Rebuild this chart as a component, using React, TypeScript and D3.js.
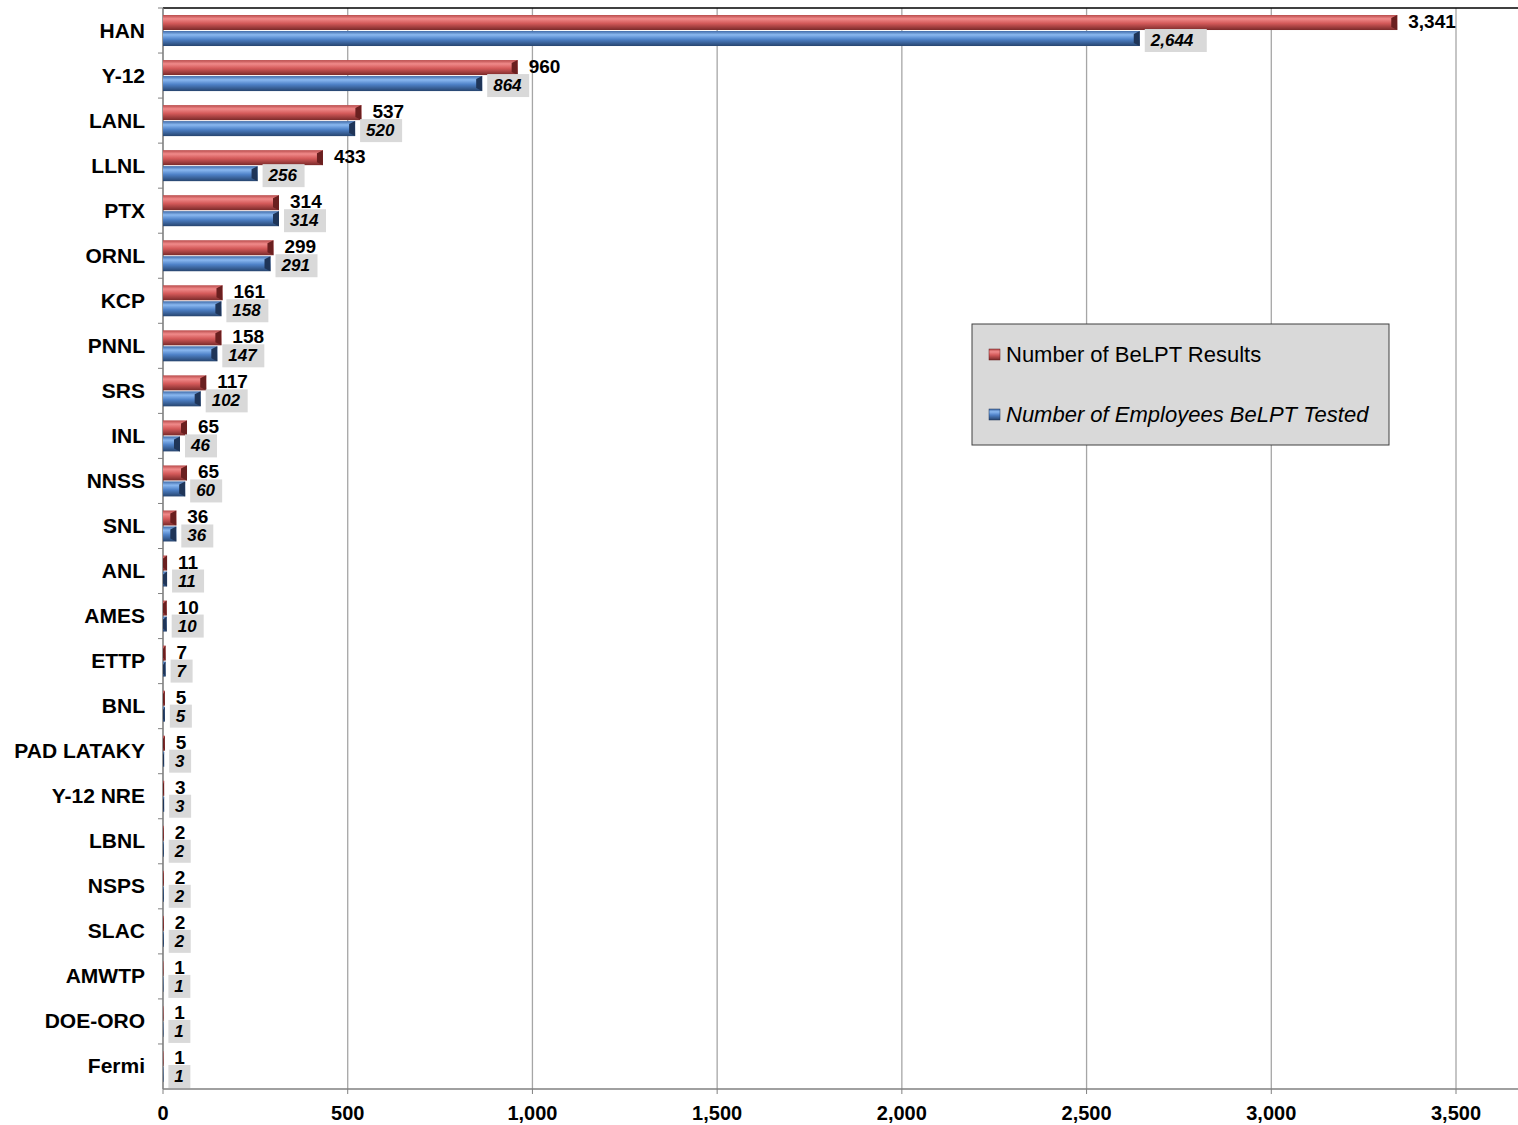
import React from "react";
import * as d3 from "d3";

const categories = ["HAN","Y-12","LANL","LLNL","PTX","ORNL","KCP","PNNL","SRS","INL","NNSS","SNL","ANL","AMES","ETTP","BNL","PAD LATAKY","Y-12 NRE","LBNL","NSPS","SLAC","AMWTP","DOE-ORO","Fermi"];
const results = [3341,960,537,433,314,299,161,158,117,65,65,36,11,10,7,5,5,3,2,2,2,1,1,1];
const tested = [2644,864,520,256,314,291,158,147,102,46,60,36,11,10,7,5,3,3,2,2,2,1,1,1];
const xTicks = [0,500,1000,1500,2000,2500,3000,3500];
const seriesNames = ["Number of BeLPT Results","Number of Employees BeLPT Tested"];

export default function App() {
  const W = 1518, H = 1125;
  const left = 163, right = 1518, top = 8, bottom = 1089;
  const x = d3.scaleLinear().domain([0, 3500]).range([left, 1456]);
  const y = d3.scaleBand().domain(categories).range([top, bottom]);
  const fmt = d3.format(",");
  const bh = 15;
  const font = "Arial, 'Liberation Sans', sans-serif";
  const bar = (v: number, y0: number, grad: string, dark: string, key: string) => {
    const x1 = x(v), w = x1 - left;
    const cap = Math.min(6, w);
    return (
      <g key={key}>
        <rect x={left} y={y0} width={w} height={bh} fill={`url(#${grad})`} />
        <polygon points={`${x1 - cap},${y0 + 3} ${x1},${y0} ${x1},${y0 + bh} ${x1 - cap},${y0 + bh - 3}`} fill={dark} />
      </g>
    );
  };
  return (
    <svg width={W} height={H} style={{ display: "block", position: "absolute", left: 0, top: 0 }} fontFamily={font}>
      <defs>
        <linearGradient id="gr" x1="0" y1="0" x2="0" y2="1">
          <stop offset="0" stopColor="#b84a4a" />
          <stop offset="0.25" stopColor="#f08a8a" />
          <stop offset="0.55" stopColor="#d45a5a" />
          <stop offset="1" stopColor="#7a2a2a" />
        </linearGradient>
        <linearGradient id="gb" x1="0" y1="0" x2="0" y2="1">
          <stop offset="0" stopColor="#3f6aa8" />
          <stop offset="0.25" stopColor="#8ab8f0" />
          <stop offset="0.55" stopColor="#4f82c8" />
          <stop offset="1" stopColor="#27456f" />
        </linearGradient>
      </defs>
      {xTicks.map(t => (
        <line key={t} x1={x(t)} x2={x(t)} y1={top} y2={bottom} stroke="#a6a6a6" strokeWidth={1.3} />
      ))}
      <line x1={left} x2={right} y1={top} y2={top} stroke="#000" strokeWidth={1.3} />
      <line x1={left} x2={left} y1={top} y2={bottom} stroke="#808080" strokeWidth={1.3} />
      <line x1={left} x2={right} y1={bottom} y2={bottom} stroke="#808080" strokeWidth={1.3} />
      {categories.map((c, i) => (
        <line key={"t" + i} x1={left - 5} x2={left} y1={y(c)!} y2={y(c)!} stroke="#808080" />
      ))}
      {xTicks.map(t => (
        <g key={"l" + t}>
          <line x1={x(t)} x2={x(t)} y1={bottom} y2={bottom + 5} stroke="#808080" />
          <text x={x(t)} y={1120} textAnchor="middle" fontSize={20} fontWeight="bold">{fmt(t)}</text>
        </g>
      ))}
      {categories.map((c, i) => {
        const yc = y(c)! + y.bandwidth() / 2;
        const yr = yc - bh - 0.5, yb = yc + 0.5;
        const lab = fmt(tested[i]);
        const bw = lab.length * 10 + 12;
        return (
          <g key={c}>
            <text x={145} y={yc + 7} textAnchor="end" fontSize={21} fontWeight="bold">{c}</text>
            {bar(results[i], yr, "gr", "#6a1f1f", "r")}
            {bar(tested[i], yb, "gb", "#1f3558", "b")}
            <rect x={x(tested[i]) + 5} y={yb - 2} width={bw} height={23} fill="#d9d9d9" />
            <text x={x(tested[i]) + 11} y={yb + 15} fontSize={17} fontWeight="bold" fontStyle="italic">{lab}</text>
            <text x={x(results[i]) + 11} y={yr + 13} fontSize={19} fontWeight="bold">{fmt(results[i])}</text>
          </g>
        );
      })}
      <rect x={972} y={324} width={417} height={121} fill="#d9d9d9" stroke="#404040" strokeWidth={1} />
      <rect x={989} y={349} width={11} height={11} fill="url(#gr)" stroke="#6a1f1f" strokeWidth={0.5} />
      <text x={1006} y={362} fontSize={22}>{seriesNames[0]}</text>
      <rect x={989} y={409} width={11} height={11} fill="url(#gb)" stroke="#1f3558" strokeWidth={0.5} />
      <text x={1006} y={422} fontSize={22} fontStyle="italic">{seriesNames[1]}</text>
    </svg>
  );
}
